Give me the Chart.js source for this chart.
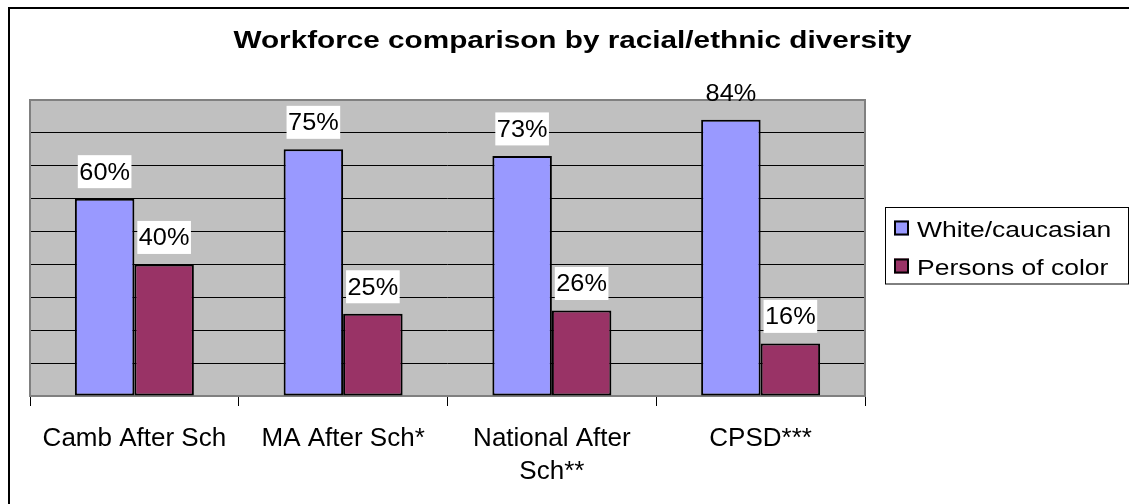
<!DOCTYPE html>
<html>
<head>
<meta charset="utf-8">
<script src="https://cdn.jsdelivr.net/npm/chart.js@4.4.0/dist/chart.umd.min.js"></script>
<style>
  html, body { margin: 0; padding: 0; background: #fff; }
  canvas { display: block; }
</style>
</head>
<body>
<canvas id="chart" width="1129" height="504"></canvas>
<script>
// Workforce share by group, in percent
const categories = ['Camb After Sch', 'MA After Sch*', ['National After', 'Sch**'], 'CPSD***'];
const seriesNames = ['White/caucasian', 'Persons of color'];
const whiteCaucasian = [60, 75, 73, 84];
const personsOfColor = [40, 25, 26, 16];
const yMin = 0;
const yMax = 90;
const yStep = 10;
const chartTitle = 'Workforce comparison by racial/ethnic diversity';

const FONT = '"Liberation Sans", Arial, Helvetica, sans-serif';
const seriesColors = ['#9999FF', '#993366'];

// Text drawn slightly widened, like the old office-chart rendering
function wideText(ctx, text, x, y, sx, align) {
  ctx.save();
  ctx.translate(x, y);
  ctx.scale(sx, 1);
  ctx.textAlign = align;
  ctx.textBaseline = 'alphabetic';
  ctx.fillText(text, 0, 0);
  ctx.restore();
}

const officeFrame = {
  id: 'officeFrame',
  beforeDraw(chart) {
    const { ctx, chartArea: a } = chart;
    ctx.save();
    ctx.fillStyle = '#fff';
    ctx.fillRect(0, 0, chart.width, chart.height);
    // outer chart frame
    ctx.strokeStyle = '#000';
    ctx.lineWidth = 2;
    ctx.beginPath();
    ctx.moveTo(9, chart.height);
    ctx.lineTo(9, 8);
    ctx.lineTo(chart.width, 8);
    ctx.stroke();
    // plot area fill
    ctx.fillStyle = '#C0C0C0';
    ctx.fillRect(a.left, a.top, a.right - a.left, a.bottom - a.top);
    ctx.restore();
  },
  beforeDatasetsDraw(chart) {
    const { ctx, chartArea: a } = chart;
    ctx.save();
    ctx.strokeStyle = '#808080';
    ctx.lineWidth = 2;
    ctx.strokeRect(a.left, a.top, a.right - a.left, a.bottom - a.top);
    ctx.restore();
  },
  afterDatasetsDraw(chart) {
    const { ctx, chartArea: a } = chart;
    ctx.save();
    ctx.font = `23px ${FONT}`;
    chart.data.datasets.forEach((ds, di) => {
      chart.getDatasetMeta(di).data.forEach((bar, i) => {
        const text = ds.data[i] + '%';
        const w = ctx.measureText(text).width * 1.1;
        const base = bar.y - 19;
        const boxTop = base - 24.5;
        if (boxTop >= a.top) {
          ctx.fillStyle = '#fff';
          ctx.fillRect(bar.x - w / 2 - 1.5, boxTop, w + 3, 33);
        }
        ctx.fillStyle = '#000';
        wideText(ctx, text, bar.x, base, 1.1, 'center');
      });
    });
    ctx.restore();
  },
  afterDraw(chart) {
    const { ctx } = chart;
    ctx.save();
    // title
    ctx.fillStyle = '#000';
    ctx.font = `bold 23px ${FONT}`;
    wideText(ctx, chartTitle, 572.5, 48.3, 1.292, 'center');
    // legend
    const lx = 885.5, ly = 207.5, lw = 243, lh = 76.5;
    ctx.strokeStyle = '#000';
    ctx.lineWidth = 1;
    ctx.strokeRect(lx, ly, lw, lh);
    const baselines = [236.5, 274.5];
    ctx.font = `22.5px ${FONT}`;
    chart.data.datasets.forEach((ds, di) => {
      const b = baselines[di];
      ctx.fillStyle = ds.backgroundColor;
      ctx.fillRect(894, b - 16, 15, 15);
      ctx.strokeStyle = '#000';
      ctx.lineWidth = 2;
      ctx.strokeRect(895, b - 15, 13, 13);
      ctx.fillStyle = '#000';
      wideText(ctx, ds.label, 917, b, 1.177, 'left');
    });
    ctx.restore();
  }
};

new Chart(document.getElementById('chart'), {
  type: 'bar',
  data: {
    labels: categories,
    datasets: [
      {
        label: seriesNames[0],
        data: whiteCaucasian,
        backgroundColor: seriesColors[0]
      },
      {
        label: seriesNames[1],
        data: personsOfColor,
        backgroundColor: seriesColors[1]
      }
    ]
  },
  options: {
    responsive: false,
    animation: false,
    devicePixelRatio: 1,
    layout: { padding: { left: 30, right: 264, top: 100, bottom: 0 } },
    datasets: {
      bar: {
        borderColor: '#000',
        borderWidth: 2,
        borderSkipped: false,
        categoryPercentage: 0.57,
        barPercentage: 1.0
      }
    },
    scales: {
      x: {
        grid: { display: true, drawOnChartArea: false, drawTicks: true, tickLength: 10, color: '#000', lineWidth: 1, offset: true },
        border: { display: false },
        ticks: { color: '#000', font: { family: FONT, size: 26, lineHeight: '33px' }, padding: 16, maxRotation: 0, autoSkip: false },
        afterFit(s) { s.height = 108; }
      },
      y: {
        min: yMin,
        max: yMax,
        ticks: { stepSize: yStep, display: false },
        grid: { color: '#000', lineWidth: 1, drawTicks: false },
        border: { display: false },
        afterFit(s) { s.width = 0; }
      }
    },
    plugins: {
      legend: { display: false },
      title: { display: false },
      tooltip: { enabled: false }
    }
  },
  plugins: [officeFrame]
});
</script>
</body>
</html>
